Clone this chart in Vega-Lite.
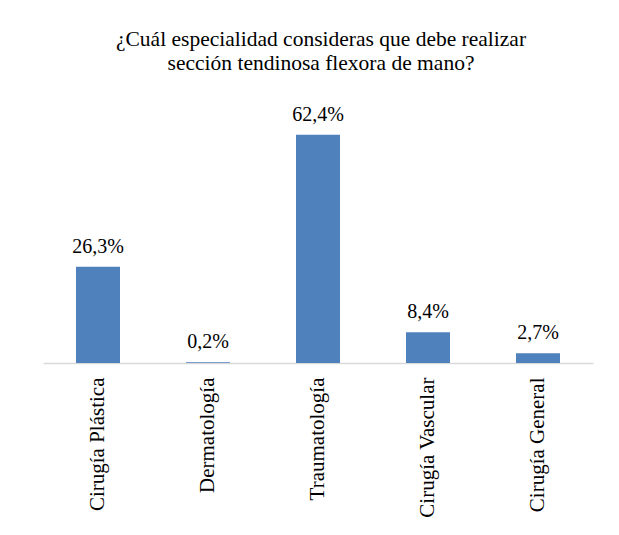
{
  "$schema": "https://vega.github.io/schema/vega-lite/v6.json",
  "width": 550,
  "height": 256,
  "autosize": {"type": "none"},
  "padding": {"left": 43, "top": 107, "right": 26, "bottom": 172},
  "background": "white",
  "title": {
    "text": ["¿Cuál especialidad consideras que debe realizar", "sección tendinosa flexora de mano?"],
    "fontSize": 21.5,
    "fontWeight": "normal",
    "color": "#000000",
    "lineHeight": 24,
    "anchor": "middle",
    "offset": 30,
    "dx": 3
  },
  "data": {
    "values": [
      {"especialidad": "Cirugía Plástica", "pct": 26.3, "etiqueta": "26,3%"},
      {"especialidad": "Dermatología", "pct": 0.2, "etiqueta": "0,2%"},
      {"especialidad": "Traumatología", "pct": 62.4, "etiqueta": "62,4%"},
      {"especialidad": "Cirugía Vascular", "pct": 8.4, "etiqueta": "8,4%"},
      {"especialidad": "Cirugía General", "pct": 2.7, "etiqueta": "2,7%"}
    ]
  },
  "encoding": {
    "x": {
      "field": "especialidad",
      "type": "nominal",
      "sort": null,
      "scale": {"paddingInner": 0.6, "paddingOuter": 0.3},
      "axis": {
        "title": null,
        "labelAngle": -90,
        "labelFontSize": 21,
        "labelColor": "#000000",
        "labelPadding": 14,
        "labelLimit": 0,
        "ticks": false,
        "domainColor": "#d9d9d9",
        "domainWidth": 1.5
      }
    },
    "y": {
      "field": "pct",
      "type": "quantitative",
      "scale": {"domain": [0, 70]},
      "axis": null
    }
  },
  "layer": [
    {"mark": {"type": "bar", "color": "#4f81bd"}},
    {
      "mark": {
        "type": "text",
        "fontSize": 20,
        "color": "#000000",
        "baseline": "alphabetic",
        "dy": -14
      },
      "encoding": {"text": {"field": "etiqueta", "type": "nominal"}}
    }
  ],
  "config": {"font": "Liberation Serif", "view": {"stroke": null}}
}
